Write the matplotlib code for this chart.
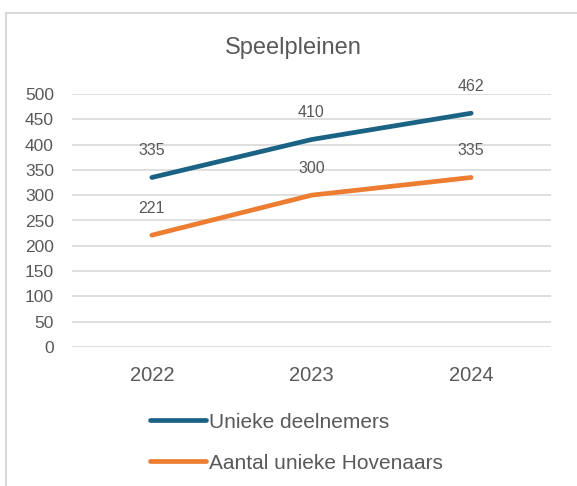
import matplotlib
matplotlib.use("Agg")
import matplotlib.pyplot as plt
from matplotlib.patches import Rectangle

years = ["2022", "2023", "2024"]
deelnemers = [335, 410, 462]
hovenaars = [221, 300, 335]
series_names = ["Unieke deelnemers", "Aantal unieke Hovenaars"]
yticks = [0, 50, 100, 150, 200, 250, 300, 350, 400, 450, 500]

plt.rcParams['font.family'] = ['Liberation Sans', 'DejaVu Sans']
txt = '#595959'
W, H = 577, 486
fig = plt.figure(figsize=(W/100, H/100), dpi=100)
ax = fig.add_axes([72/W, 1-347/H, (551-72)/W, (347-94)/H])

x = list(range(len(years)))
c1 = '#1B6385'
c2 = '#ED7D31'
l1, = ax.plot(x, deelnemers, color=c1, lw=3.4, solid_capstyle='round', label=series_names[0], zorder=3)
l2, = ax.plot(x, hovenaars, color=c2, lw=3.4, solid_capstyle='round', label=series_names[1], zorder=3)
for xs, ys in [(x, deelnemers), (x, hovenaars)]:
    for xi, yi in zip(xs, ys):
        ax.annotate(str(yi), (xi, yi), xytext=(0, 27), textcoords='offset pixels',
                    ha='center', va='center', fontsize=11.5, color=txt, annotation_clip=False)

ax.set_xlim(-0.5, 2.5)
ax.set_ylim(0, 500)
ax.set_yticks(yticks)
ax.set_xticks(x)
ax.set_xticklabels(years)
ax.grid(axis='y', color='#D9D9D9', lw=1.2)
ax.set_axisbelow(True)
for s in ax.spines.values():
    s.set_visible(False)
ax.tick_params(axis='y', length=0, labelsize=12.5, labelcolor=txt, pad=13)
ax.tick_params(axis='x', length=0, labelsize=14.5, labelcolor=txt, pad=13.5)

fig.text(293/W, 1-48/H, "Speelpleinen", ha='center', va='center', fontsize=17, color=txt)

leg = fig.legend(handles=[l1, l2], loc='upper left', bbox_to_anchor=(131/W, 1-394/H),
                 frameon=False, fontsize=15, labelcolor=txt, handlelength=2.7,
                 handletextpad=0.15, labelspacing=1.05)

fig.patches.append(Rectangle((6/W, -0.1), 1.2, 1.1 - 13/H, transform=fig.transFigure,
                             fill=False, edgecolor='#D9D9D9', lw=1.5))

fig.savefig("out.png", dpi=100)
